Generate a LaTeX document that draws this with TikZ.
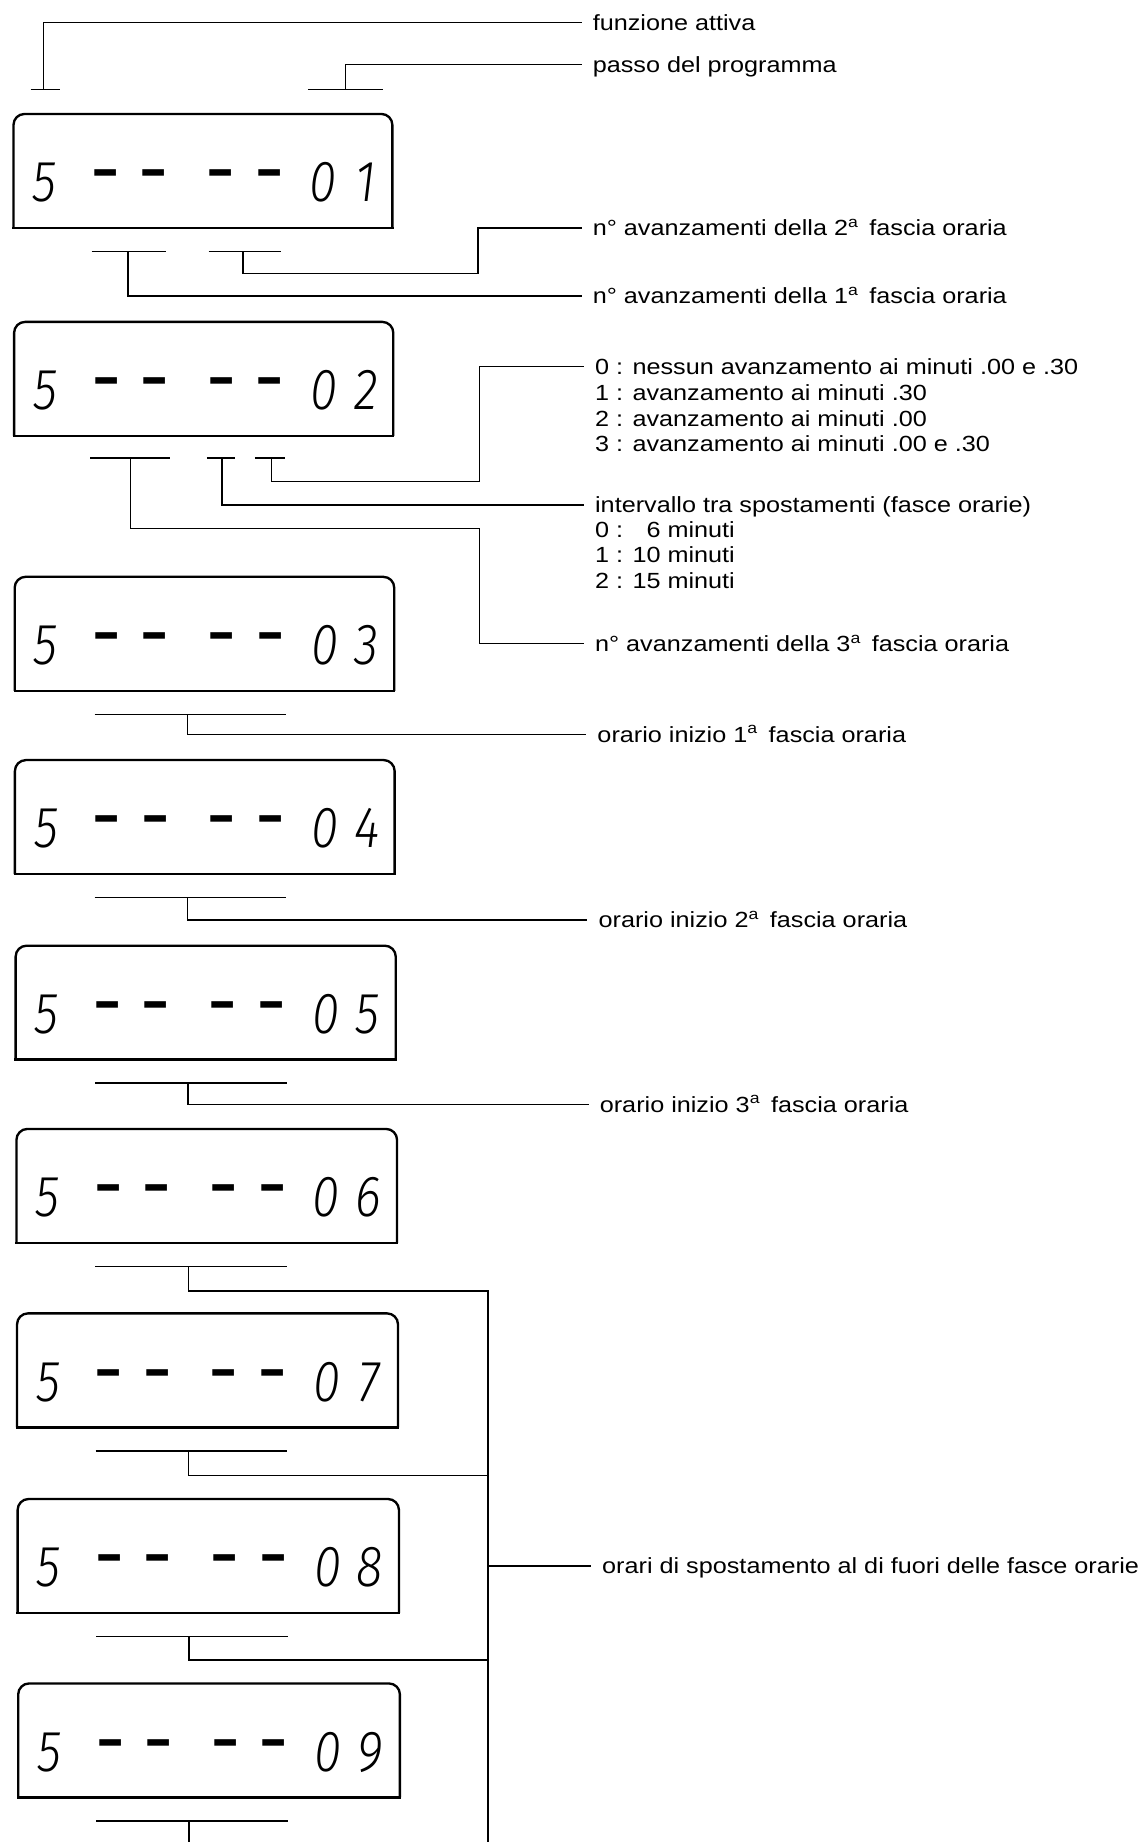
\documentclass[tikz,border=0pt]{standalone}
\usepackage{fontspec}
\setmainfont{Liberation Sans}[FakeStretch=1.15]
\newfontfamily\lcdfont{Fira Sans Light Italic}[FakeStretch=0.85]

% one character of the display, centred #1 from the start
\newcommand\lcdat[2]{\rlap{\hspace*{#1}\makebox[0pt]{#2}}}
\newcommand\lcdbar{{\normalfont\bfseries\fontsize{22pt}{22pt}\selectfont\raisebox{7pt}{\scalebox{1.1}[1.9]{–}}}}
\newcommand\lcd[2]{\lcdat{0pt}{5}\lcdat{38.9pt}{\lcdbar}\lcdat{69.7pt}{\lcdbar}%
  \lcdat{112.3pt}{\lcdbar}\lcdat{143.5pt}{\lcdbar}\lcdat{178pt}{#1}\lcdat{205pt}{#2}}

\begin{document}
\begin{tikzpicture}[x=0.75pt,y=0.75pt,yscale=-1,
    lbl/.style={anchor=west,inner xsep=7pt,inner ysep=0pt,text height=11pt,text depth=1pt,
      font=\fontsize{14pt}{16pt}\selectfont},
    lcd/.style={anchor=base,inner sep=0pt,font=\lcdfont\fontsize{37pt}{37pt}\selectfont},
    wire/.style={line width=0.9pt},
    frame/.style={line width=1.5pt}]
\useasboundingbox (0,0) rectangle (977,1568);

% displays
\foreach \n/\t/\s in {1/97/0,2/274/0.5,3/491/1,4/647/1.2,5/805/1.8,6/961/2.5,7/1118/3,8/1276/3.5,9/1433/4}{
  \draw[frame,rounded corners=7pt] (11.5+\s,\t+97) -- (11.5+\s,\t) -- (334+1.6*\s,\t) -- (334+1.6*\s,\t+97);
  \draw[frame,line cap=rect] (11.5+\s,\t+97) -- (334+1.6*\s,\t+97);
  \node[lcd] (d\n) at (38+\s,\t+74.6) {\lcd{0}{\n}};
  \ifnum\n>2
    \draw[wire] (80+\s/2,\t+117) -- (243+\s/2,\t+117);
    \coordinate (t\n) at (159+\s/2,\t+117);
  \fi
}

% labels
\node[lbl] (fa) at (495,19) {funzione attiva};
\node[lbl] (pp) at (495,55) {passo del programma};
\node[lbl] (f2) at (495,194) {n° avanzamenti della 2\textsuperscript{a}\, fascia oraria};
\node[lbl] (f1) at (495,252) {n° avanzamenti della 1\textsuperscript{a}\, fascia oraria};
\node[lbl] (n0) at (497,312) {0 : nessun avanzamento ai minuti .00 e .30};
\node[lbl] (n1) at (497,334.5) {1 : avanzamento ai minuti .30};
\node[lbl] (n2) at (497,356) {2 : avanzamento ai minuti .00};
\node[lbl] (n3) at (497,377.5) {3 : avanzamento ai minuti .00 e .30};
\node[lbl] (iv) at (497,430) {intervallo tra spostamenti (fasce orarie)};
\node[lbl] (i0) at (497,451) {0 : \phantom{1}6 minuti};
\node[lbl] (i1) at (497,472.5) {1 : 10 minuti};
\node[lbl] (i2) at (497,494) {2 : 15 minuti};
\node[lbl] (f3) at (497,548) {n° avanzamenti della 3\textsuperscript{a}\, fascia oraria};
\node[lbl] (o1) at (499,625) {orario inizio 1\textsuperscript{a}\, fascia oraria};
\node[lbl] (o2) at (500,783) {orario inizio 2\textsuperscript{a}\, fascia oraria};
\node[lbl] (o3) at (501,940) {orario inizio 3\textsuperscript{a}\, fascia oraria};
\node[lbl] (os) at (503,1333) {orari di spostamento al di fuori delle fasce orarie};

% top tees
\coordinate (tfa) at (37,76);
\coordinate (tpp) at (294,76);
\draw[wire] (26,76) -- (51,76);
\draw[wire] (262,76) -- (326,76);
\draw[wire] (tfa) |- (fa.west);
\draw[wire] (tpp) |- (pp.west);

% under display 1
\coordinate (t1a) at (109,214);
\coordinate (t1b) at (207,214);
\draw[wire] (78,214) -- (141,214);
\draw[wire] (177.5,214) -- (239,214);
\draw[wire] (t1b) |- (407,233) |- (f2.west);
\draw[wire] (t1a) |- (f1.west);

% under display 2
\coordinate (t2a) at (111,390);
\coordinate (t2b) at (189,390);
\coordinate (t2c) at (231,390);
\draw[wire] (77,390) -- (145,390);
\draw[wire] (176,390) -- (200,390);
\draw[wire] (217,390) -- (243,390);
\draw[wire] (t2c) |- (408,410) |- (n0.west);
\draw[wire] (t2b) |- (iv.west);
\draw[wire] (t2a) |- (408,450) |- (f3.west);

% displays 3-5
\draw[wire] (t3) |- (o1.west);
\draw[wire] (t4) |- (o2.west);
\draw[wire] (t5) |- (o3.west);

% displays 6-9 on one bus
\coordinate (b6) at (415.5,1099);
\coordinate (b7) at (415.5,1256);
\coordinate (b8) at (415.5,1413);
\coordinate (bs) at (415.5,1333);
\coordinate (bend) at (415.5,1568);
\coordinate (t9e) at (161,1568);
\draw[wire] (t6) |- (b6) -- (bend);
\draw[wire] (t7) |- (b7);
\draw[wire] (t8) |- (b8);
\draw[wire] (bs) -- (os.west);
\draw[wire] (t9) -- (t9e);
\end{tikzpicture}
\end{document}
